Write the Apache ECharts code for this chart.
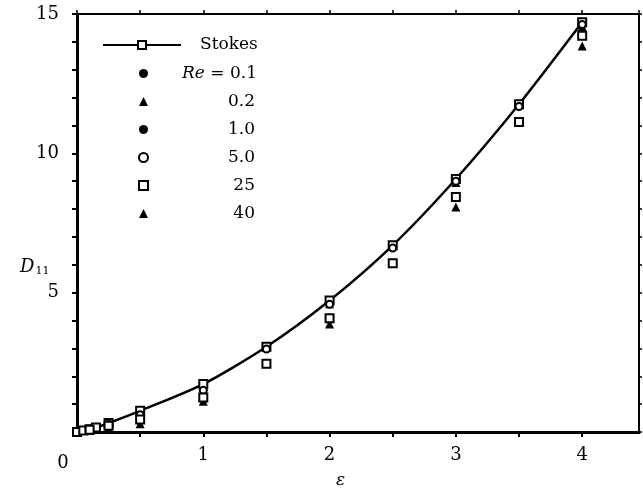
<!DOCTYPE html>
<html>
<head>
<meta charset="utf-8">
<script src="https://cdn.jsdelivr.net/npm/echarts@6/dist/echarts.min.js"></script>
<style>
html,body{margin:0;padding:0;background:#fff;}
#chart{width:643px;height:494px;}
</style>
</head>
<body>
<div id="chart"></div>
<script>
// ---- data ----
var stokesEps = [0, 0.05, 0.1, 0.15, 0.25, 0.5, 1, 1.5, 2, 2.5, 3, 3.5, 4];
var stokesD   = [0, 0.05, 0.1, 0.16, 0.32, 0.76, 1.72, 3.06, 4.72, 6.7, 9.08, 11.76, 14.7];

var re01Eps = [0.05, 0.1, 0.25, 0.5, 1, 2, 3, 4];
var re01D   = [0.05, 0.1, 0.31, 0.74, 1.68, 4.66, 9.02, 14.65];

var re02Eps = [0.05, 0.1, 0.25, 0.5, 1, 2, 3, 4];
var re02D   = [0.05, 0.1, 0.3, 0.72, 1.64, 4.6, 8.95, 14.55];

var re1Eps = [0.05, 0.1, 0.25, 0.5, 1, 1.5, 2, 2.5, 3, 3.5, 4];
var re1D   = [0.05, 0.1, 0.3, 0.7, 1.6, 2.98, 4.6, 6.62, 9.0, 11.7, 14.62];

var re5Eps = [0.1, 0.25, 0.5, 1, 1.5, 2, 2.5, 3, 3.5, 4];
var re5D   = [0.1, 0.28, 0.62, 1.5, 2.98, 4.58, 6.6, 9.0, 11.68, 14.62];

var re25Eps = [0.1, 0.25, 0.5, 1, 1.5, 2, 2.5, 3, 3.5, 4];
var re25D   = [0.08, 0.22, 0.45, 1.24, 2.45, 4.08, 6.06, 8.43, 11.12, 14.22];

var re40Eps = [0.1, 0.25, 0.5, 1, 2, 3, 4];
var re40D   = [0.06, 0.15, 0.3, 1.1, 3.88, 8.07, 13.85];

var seriesNames = ['Stokes', 'Re = 0.1', '0.2', '1.0', '5.0', '25', '40'];
var xTickLabels = [0, 1, 2, 3, 4];
var yTickLabels = [5, 10, 15];

function pairs(xs, ys) { return xs.map(function (x, i) { return [x, ys[i]]; }); }

var FONT = 'DejaVu Serif';
var chart = echarts.init(document.getElementById('chart'), null, {renderer: 'canvas'});

var option = {
  backgroundColor: '#fff',
  animation: false,
  textStyle: {fontFamily: FONT, color: '#000'},
  grid: {left: 77, top: 14, right: 4, bottom: 62, containLabel: false},
  xAxis: [{
    type: 'value', min: 0, max: 4.45, interval: 0.5,
    position: 'bottom',
    axisLine: {onZero: false, lineStyle: {color: '#000', width: 3}},
    axisTick: {show: true, inside: false, length: 5, lineStyle: {color: '#000', width: 2}},
    splitLine: {show: false},
    axisLabel: {
      margin: 14, color: '#000', fontFamily: FONT, fontSize: 18,
      showMaxLabel: false,
      formatter: function (v) {
        if (v === 0) return '{z|0}';
        return xTickLabels.indexOf(v) >= 0 ? String(v) : '';
      },
      rich: {z: {fontFamily: FONT, fontSize: 18, color: '#000', padding: [8, 28, 0, 0]}}
    }
  }, {
    type: 'value', min: 0, max: 4.45, interval: 0.5,
    position: 'top',
    axisLine: {onZero: false, lineStyle: {color: '#000', width: 2}},
    axisTick: {show: true, inside: false, length: 4, lineStyle: {color: '#000', width: 1.5}},
    axisLabel: {show: false},
    splitLine: {show: false}
  }],
  yAxis: [{
    type: 'value', min: 0, max: 15, interval: 1,
    position: 'left',
    axisLine: {onZero: false, lineStyle: {color: '#000', width: 3}},
    axisTick: {show: true, inside: false, length: 5, lineStyle: {color: '#000', width: 2}},
    splitLine: {show: false},
    axisLabel: {
      margin: 18, color: '#000', fontFamily: FONT, fontSize: 18,
      formatter: function (v) { return yTickLabels.indexOf(v) >= 0 ? String(v) : ''; }
    }
  }, {
    type: 'value', min: 0, max: 15, interval: 1,
    position: 'right',
    axisLine: {show: true, onZero: false, lineStyle: {color: '#000', width: 2}},
    axisTick: {show: true, inside: false, length: 3, lineStyle: {color: '#000', width: 1.5}},
    axisLabel: {show: false},
    splitLine: {show: false}
  }],
  legend: [{
    data: ['Stokes'],
    orient: 'vertical', left: 97, top: 31,
    itemWidth: 78, itemHeight: 10, itemGap: 10,
    textStyle: {fontFamily: FONT, fontSize: 17, color: '#000', lineHeight: 18,
      rich: {p: {width: 14}}},
    formatter: function (n) { return '{p|}' + n; },
    selectedMode: false
  }, {
    data: seriesNames.slice(1),
    orient: 'vertical', left: 133, top: 59,
    itemWidth: 9, itemHeight: 9, itemGap: 9,
    textStyle: {fontFamily: FONT, fontSize: 17, color: '#000', lineHeight: 19,
      rich: {
        sp: {width: 29},
        i: {fontFamily: FONT, fontStyle: 'italic', fontSize: 17, color: '#000'},
        n: {fontFamily: FONT, fontSize: 17, color: '#000'},
        v: {fontFamily: FONT, fontSize: 17, color: '#000', width: 102, align: 'right'}
      }},
    formatter: function (n) {
      if (n === 'Re = 0.1') return '{sp|}{i|Re}{n| = 0.1}';
      return '{v|' + n + '}';
    },
    selectedMode: false
  }],
  series: [{
    name: 'Stokes', type: 'line', data: pairs(stokesEps, stokesD),
    smooth: 0.25, symbol: 'rect', symbolSize: 8, showAllSymbol: true,
    lineStyle: {color: '#000', width: 2.5},
    itemStyle: {color: '#fff', borderColor: '#000', borderWidth: 2},
    z: 3
  }, {
    name: 'Re = 0.1', type: 'scatter', data: pairs(re01Eps, re01D),
    symbol: 'circle', symbolSize: 8, itemStyle: {color: '#000', opacity: 1}, z: 2
  }, {
    name: '0.2', type: 'scatter', data: pairs(re02Eps, re02D),
    symbol: 'triangle', symbolSize: 9, itemStyle: {color: '#000', opacity: 1}, z: 2
  }, {
    name: '1.0', type: 'scatter', data: pairs(re1Eps, re1D),
    symbol: 'circle', symbolSize: 8, itemStyle: {color: '#000', opacity: 1}, z: 2
  }, {
    name: '5.0', type: 'scatter', data: pairs(re5Eps, re5D),
    symbol: 'circle', symbolSize: 7, itemStyle: {color: '#fff', borderColor: '#000', borderWidth: 2, opacity: 1}, z: 4
  }, {
    name: '25', type: 'scatter', data: pairs(re25Eps, re25D),
    symbol: 'rect', symbolSize: 8, itemStyle: {color: '#fff', borderColor: '#000', borderWidth: 2, opacity: 1}, z: 4
  }, {
    name: '40', type: 'scatter', data: pairs(re40Eps, re40D),
    symbol: 'triangle', symbolSize: 9, itemStyle: {color: '#000', opacity: 1}, z: 2
  }],
  graphic: [{
    type: 'text', left: 20, top: 258,
    style: {
      text: '{d|D}{s|11}',
      rich: {
        d: {fontFamily: FONT, fontStyle: 'italic', fontSize: 18, fill: '#000'},
        s: {fontFamily: FONT, fontSize: 11, fill: '#000', padding: [9, 0, 0, 1]}
      }
    }
  }, {
    type: 'text', left: 336, top: 472,
    style: {text: 'ε', fontFamily: FONT, fontStyle: 'italic', fontSize: 17, fill: '#000'}
  }]
};
chart.setOption(option);
</script>
</body>
</html>
